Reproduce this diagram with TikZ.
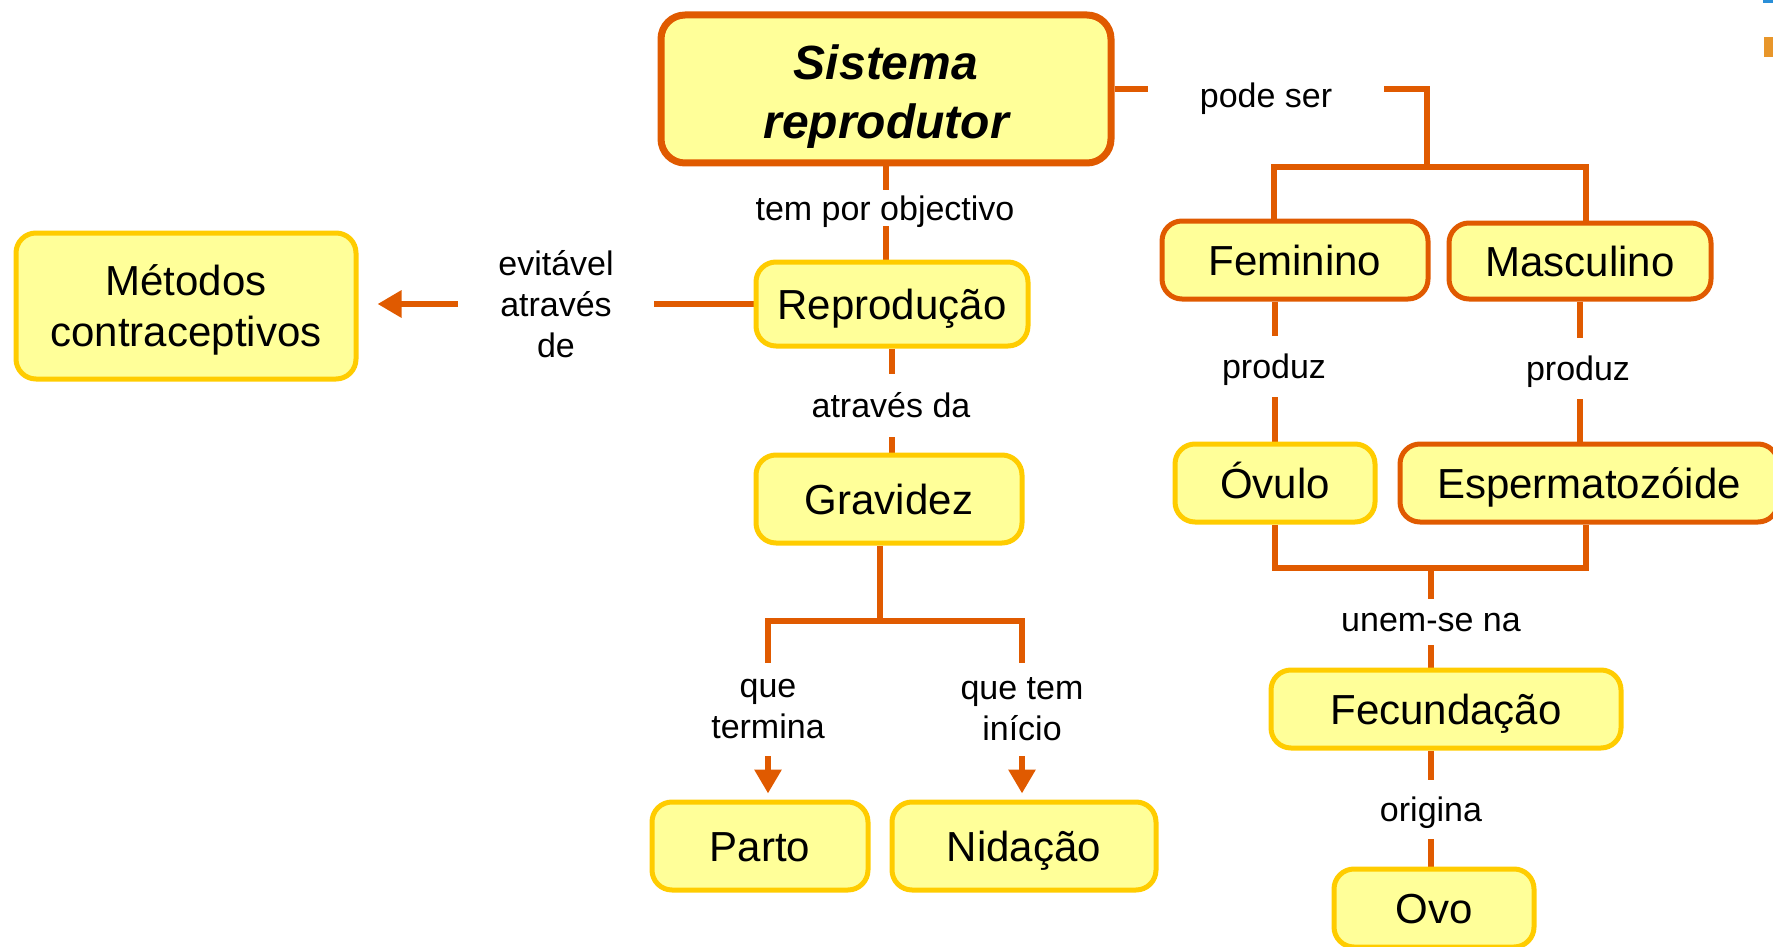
\documentclass[tikz,border=0pt]{standalone}
\usepackage{fontspec}
\setmainfont{Liberation Sans}
\usetikzlibrary{arrows.meta}
\definecolor{boxfill}{HTML}{FFFF99}
\definecolor{gold}{HTML}{FFCC00}
\definecolor{orng}{HTML}{E05A00}
\definecolor{smudgeblue}{HTML}{2A8FD8}
\definecolor{smudgeorange}{HTML}{E8962A}
\pgfdeclarelayer{background}
\pgfsetlayers{background,main}
\begin{document}
\begin{tikzpicture}[x=0.5pt,y=-0.5pt,
 mbox/.style={draw=gold, fill=boxfill, line width=2.5pt, rounded corners=10pt, inner sep=0pt, align=center, font=\fontsize{21}{25.5}\selectfont},
 box/.style={mbox, text height=15pt, text depth=0pt},
 obox/.style={box, draw=orng},
 lbl/.style={fill=white, inner sep=0pt, align=center, text depth=0pt, font=\fontsize{17}{20.6}\selectfont},
 mlbl/.style={fill=white, inner sep=0pt, align=center, font=\fontsize{17}{20.6}\selectfont},
 conn/.style={draw=orng, line width=3pt},
 arr/.style={conn, -{Triangle[width=13pt,length=12pt]}},
]
\useasboundingbox (0,0) rectangle (1773,947);
% nodes
\node[mbox, draw=orng, line width=3.5pt, rounded corners=12pt, minimum width=225pt, minimum height=74pt, font=\fontsize{24}{29.5}\selectfont\bfseries\itshape] (sis) at (886,89) {\rule{0pt}{25.5pt}Sistema\\reprodutor\rule[-5.5pt]{0pt}{5.5pt}};
\node[mbox, minimum width=170pt, minimum height=73pt] (met) at (186,306) {\rule{0pt}{19.5pt}Métodos\\contraceptivos\rule[-5pt]{0pt}{5pt}};
\node[box, minimum width=136pt, minimum height=42pt] (rep) at (892,304) {Reprodução};
\node[box, minimum width=133pt, minimum height=44pt] (grav) at (889,499) {Gravidez};
\node[box, minimum width=108pt, minimum height=44pt] (parto) at (760,846) {Parto};
\node[box, minimum width=132pt, minimum height=44pt] (nid) at (1024,846) {Nidação};
\node[obox, minimum width=133pt, minimum height=39pt] (fem) at (1295,260) {Feminino};
\node[obox, minimum width=131pt, minimum height=38pt] (masc) at (1580,261) {Masculino};
\node[box, minimum width=100pt, minimum height=39pt] (ovulo) at (1275,483) {Óvulo};
\node[obox, minimum width=189pt, minimum height=39pt] (esp) at (1589,483) {Espermatozóide};
\node[box, minimum width=175pt, minimum height=39pt] (fec) at (1446,709) {Fecundação};
\node[box, minimum width=100pt, minimum height=39pt] (ovo) at (1434,908) {Ovo};
% junction coordinates
\coordinate (pj) at (1427,167);
\coordinate (fl) at (1274,167);
\coordinate (mr) at (1586,167);
\coordinate (gj) at (880,621);
\coordinate (gl) at (768,621);
\coordinate (gr) at (1022,621);
\coordinate (oj) at (1431,568);
\coordinate (er) at (1586,568);
% connectors
\begin{pgfonlayer}{background}
\draw[conn] (sis.east) -| (pj);
\draw[conn] (fl |- fem.north) -- (fl) -- (mr) -- (mr |- masc.north);
\draw[conn] (sis.south) -- (sis.south |- rep.north);
\draw[conn] (rep.south) -- (rep.south |- grav.north);
\draw[arr, shorten >=9.5pt] (rep.west) -- (rep.west -| met.east);
\draw[conn] (gj |- grav.south) -- (gj);
\draw[conn, line cap=rect] (gl) -- (gr);
\draw[arr, shorten >=3pt] (gl) -- (gl |- parto.north);
\draw[arr, shorten >=3pt] (gr) -- (gr |- nid.north);
\draw[conn] (ovulo.north |- fem.south) -- (ovulo.north);
\draw[conn] (masc.south) -- (masc.south |- esp.north);
\draw[conn] (ovulo.south) -- (ovulo.south |- er) -- (er) -- (er |- esp.south);
\draw[conn] (oj) -- (oj |- fec.north);
\draw[conn] (oj |- fec.south) -- (oj |- ovo.north);
\end{pgfonlayer}
% labels
\node[lbl, minimum width=118pt] (lpode) at (1266,95) {pode ser};
\node[lbl, minimum height=18pt] (ltem) at (885,208) {tem por objectivo};
\node[mlbl, minimum width=98pt] (levit) at (556,304) {evitável\\através\\de};
\node[lbl, minimum height=31.5pt] (latr) at (891,405) {através da};
\node[mlbl, minimum height=46.5pt] (lterm) at (768,709) {que\\termina};
\node[mlbl, minimum height=46.5pt] (linic) at (1022,709) {que tem\\início};
\node[lbl, minimum height=30.5pt] (lprod1) at (1274,366) {produz};
\node[lbl, minimum height=30.5pt] (lprod2) at (1578,368) {produz};
\node[lbl, minimum height=23pt] (lunem) at (1431,622) {unem-se na};
\node[lbl, minimum height=29.5pt] (lorig) at (1431,809) {origina};
% corner fragments
\fill[smudgeblue] (1763,0) rectangle (1773,3);
\fill[smudgeorange] (1764,37) rectangle (1773,57);
\end{tikzpicture}
\end{document}
